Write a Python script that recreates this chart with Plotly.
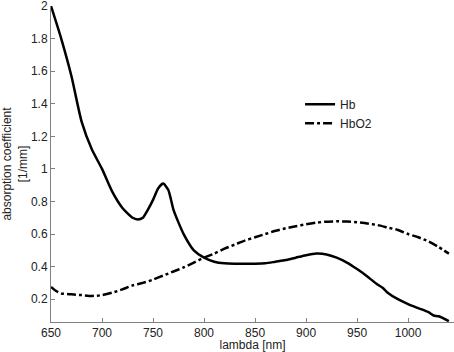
import plotly.graph_objects as go

wavelength_hb = [650, 660, 670, 680, 690, 700, 710, 720, 730, 735, 740, 745, 750, 755, 760, 765, 770, 775, 780, 790, 800, 810, 820, 830, 840, 850, 860, 870, 880, 890, 900, 910, 920, 930, 940, 950, 960, 970, 975, 980, 990, 1000, 1010, 1020, 1025, 1030, 1040]
hb = [2.0, 1.80, 1.57, 1.29, 1.12, 1.0, 0.86, 0.76, 0.70, 0.69, 0.70, 0.75, 0.81, 0.88, 0.91, 0.87, 0.75, 0.67, 0.60, 0.50, 0.455, 0.43, 0.42, 0.418, 0.418, 0.418, 0.42, 0.43, 0.44, 0.455, 0.47, 0.48, 0.475, 0.455, 0.425, 0.385, 0.34, 0.29, 0.27, 0.24, 0.20, 0.17, 0.145, 0.12, 0.10, 0.095, 0.065]

wavelength_hbo2 = [650, 655, 660, 670, 680, 690, 700, 710, 720, 730, 740, 750, 760, 770, 780, 790, 800, 810, 820, 830, 840, 850, 860, 870, 880, 890, 900, 910, 920, 930, 940, 950, 960, 970, 980, 990, 1000, 1010, 1020, 1030, 1040]
hbo2 = [0.275, 0.25, 0.235, 0.23, 0.225, 0.22, 0.225, 0.24, 0.26, 0.285, 0.30, 0.32, 0.345, 0.37, 0.395, 0.425, 0.455, 0.48, 0.51, 0.535, 0.56, 0.58, 0.60, 0.62, 0.635, 0.648, 0.66, 0.67, 0.676, 0.678, 0.677, 0.672, 0.665, 0.655, 0.64, 0.625, 0.60, 0.58, 0.555, 0.52, 0.48]

fig = go.Figure()
fig.add_trace(go.Scatter(x=wavelength_hb, y=hb, mode="lines", name="Hb",
                         line=dict(color="black", width=2.5, shape="spline", smoothing=0.6)))
fig.add_trace(go.Scatter(x=wavelength_hbo2, y=hbo2, mode="lines", name="HbO2",
                         line=dict(color="black", width=2.5, dash="dashdot", shape="spline", smoothing=0.6)))

axis_common = dict(showgrid=False, zeroline=False, showline=True, linecolor="#808080", linewidth=1,
                   ticks="inside", ticklen=4, tickcolor="#808080", automargin=False,
                   ticklabeloverflow="allow",
                   tickfont=dict(family="Liberation Sans, Arial", size=12, color="#222"))

fig.update_layout(
    width=454, height=352,
    margin=dict(l=51, r=0, t=6, b=30),
    paper_bgcolor="white", plot_bgcolor="white",
    font=dict(family="Liberation Sans, Arial", size=12, color="#222"),
    xaxis=dict(range=[650, 1045], tick0=650, dtick=50, ticklabelstandoff=0,
               title=dict(text="lambda [nm]", standoff=3, font=dict(size=12)), **axis_common),
    yaxis=dict(range=[0.06, 2.0], tick0=0.2, dtick=0.2,
               title=dict(text="absorption coefficient<br>[1/mm]", standoff=2, font=dict(size=12)), **axis_common),
    legend=dict(x=0.618, y=0.735, xanchor="left", yanchor="top", bgcolor="rgba(0,0,0,0)",
                font=dict(size=12), itemwidth=30, tracegroupgap=0),
    showlegend=True,
)

fig.write_html("out.html", config={"displayModeBar": False},
               post_script="document.body.style.margin='0';document.body.style.padding='0';")
